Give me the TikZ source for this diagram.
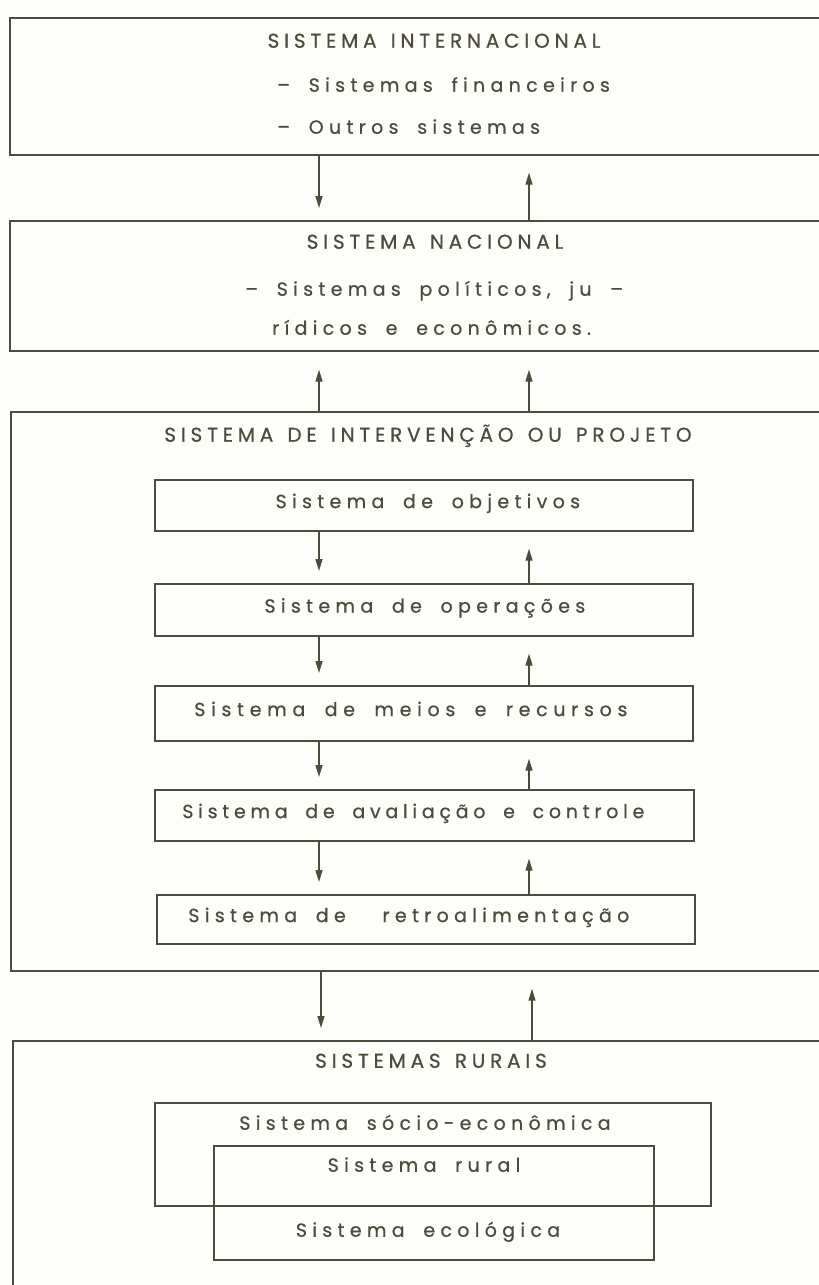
\documentclass[tikz,border=0pt]{standalone}
\usepackage{fontspec}
\setmainfont{Poppins}
% wide, hand-lettered look: heavy tracking
\newfontfamily\lettcap{Poppins}[LetterSpace=24, WordSpace=1.4, FakeBold=0.6]
\newfontfamily\lettlow{Poppins}[LetterSpace=28, WordSpace=1.8, FakeBold=0.6]
\usetikzlibrary{arrows.meta}
\definecolor{ink}{RGB}{78,74,60}
\definecolor{paper}{RGB}{253,253,250}
\newcommand\lowsize{\fontsize{19}{22}\selectfont}
\begin{document}
\begin{tikzpicture}[x=1pt,y=-1pt,
  box/.style={draw=ink, line width=1.7pt, inner sep=0pt, anchor=north west},
  title/.style={font=\lettcap\fontsize{20}{22}\selectfont, text=ink, anchor=mid, inner sep=0pt},
  item/.style={font=\lettlow\lowsize, text=ink, anchor=mid west, inner sep=0pt},
  plain/.style={font=\lettlow\lowsize, text=ink, anchor=mid, inner sep=0pt},
  arr/.style={draw=ink, line width=1.4pt, -{Triangle[length=12pt,width=7pt]}},
  down/.style={arr, shorten >=12pt},
  rise/.style={arr, shorten >=17pt}]
\path[use as bounding box, fill=paper] (0,0) rectangle (819,1285);
\clip (0,0) rectangle (819,1285);

% arrow columns
\coordinate (L) at (319,0);
\coordinate (R) at (529,0);
\coordinate (L2) at (321,0);
\coordinate (R2) at (532,0);

% international system
\node[box, minimum width=831pt, minimum height=137pt] (b1) at (9,17) {};
\node[title] (t1) at (434,45) {SISTEMA INTERNACIONAL};
\node[item] (fin) at (277,89) {– Sistemas financeiros};
\node[item] (out) at (277,131) {– Outros sistemas};

% national system
\node[box, minimum width=831pt, minimum height=130pt] (b2) at (9,220) {};
\node[title] (t2) at (435,246) {SISTEMA NACIONAL};
\node[item] (pol) at (245,293) {– Sistemas políticos, ju –};
\node[item] (jur) at (272,332) {rídicos e econômicos.};

% intervention / project system
\node[box, minimum width=830pt, minimum height=559pt] (b3) at (10,411) {};
\node[title] (t3) at (428,439) {SISTEMA DE INTERVENÇÃO OU PROJETO};
\node[box, minimum width=538pt, minimum height=51pt] (obj) at (154,479) {};
\node[box, minimum width=538pt, minimum height=52pt] (ope) at (154,583) {};
\node[box, minimum width=538pt, minimum height=55pt] (mei) at (154,685) {};
\node[box, minimum width=539pt, minimum height=51pt] (ava) at (154,789) {};
\node[box, minimum width=538pt, minimum height=49pt] (ret) at (156,894) {};
\node[plain, xshift=4pt]  (tobj) at (obj.center) {Sistema de objetivos};
\node[plain, xshift=1pt]  (tope) at (ope.center) {Sistema de operações};
\node[plain, xshift=-13pt, font={\lettlow\addfontfeature{LetterSpace=30}\lowsize}] (tmei) at (mei.center) {Sistema de meios e recursos};
\node[plain, xshift=-11pt, font={\lettlow\addfontfeature{LetterSpace=25}\lowsize}] (tava) at (ava.center) {Sistema de avaliação e controle};
\node[plain, xshift=-17pt] (tret) at (ret.center) {Sistema de\hspace{18pt} retroalimentação};

% rural systems
\node[box, minimum width=828pt, minimum height=300pt] (b4) at (12,1040) {};
\node[title] (t4) at (431,1065) {SISTEMAS RURAIS};
\node[box, minimum width=556pt, minimum height=103pt] (soc) at (154,1102) {};
\node[box, minimum width=440pt, minimum height=114pt] (eco) at (213,1145) {};
\node[plain] (tsoc) at (425,1127) {Sistema sócio-econômica};
\node[plain] (trur) at (424,1169) {Sistema rural};
\node[plain] (teco) at (428,1234) {Sistema ecológica};

% connectors
\draw[down] (b1.south -| L) -- (b2.north -| L);
\draw[rise] (b2.north -| R) -- (b1.south -| R);
\draw[arr, shorten >=18pt] (b3.north -| L) -- (b2.south -| L);
\draw[arr, shorten >=18pt] (b3.north -| R) -- (b2.south -| R);
\draw[down] (obj.south -| L) -- (ope.north -| L);
\draw[rise] (ope.north -| R) -- (obj.south -| R);
\draw[down] (ope.south -| L) -- (mei.north -| L);
\draw[rise] (mei.north -| R) -- (ope.south -| R);
\draw[down] (mei.south -| L) -- (ava.north -| L);
\draw[rise] (ava.north -| R) -- (mei.south -| R);
\draw[down] (ava.south -| L) -- (ret.north -| L);
\draw[rise] (ret.north -| R) -- (ava.south -| R);
\draw[down] (b3.south -| L2) -- (b4.north -| L2);
\draw[rise] (b4.north -| R2) -- (b3.south -| R2);
\end{tikzpicture}
\end{document}
